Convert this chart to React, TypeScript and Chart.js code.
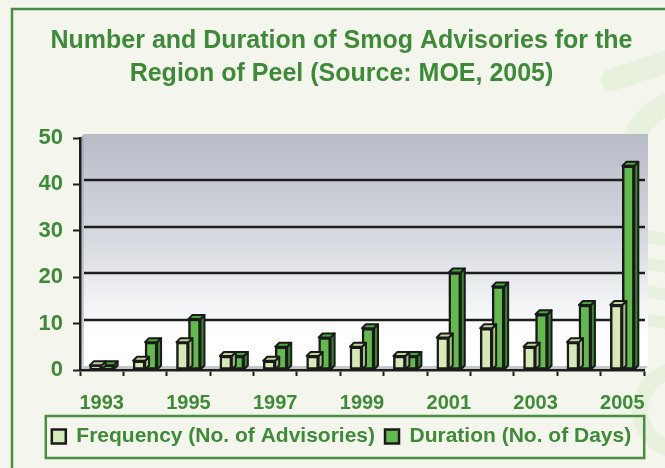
import React, { useEffect, useRef } from "react";
import { Chart, registerables } from "chart.js";

Chart.register(...registerables);

const years = ["1993", "1994", "1995", "1996", "1997", "1998", "1999", "2000", "2001", "2002", "2003", "2004", "2005"];
const shownYearLabels = ["1993", "1995", "1997", "1999", "2001", "2003", "2005"];
const frequency = [1, 2, 6, 3, 2, 3, 5, 3, 7, 9, 5, 6, 14];
const duration = [1, 6, 11, 3, 5, 7, 9, 3, 21, 18, 12, 14, 44];
const seriesNames = ["Frequency (No. of Advisories)", "Duration (No. of Days)"];
const yTickValues = [0, 10, 20, 30, 40, 50];

const FONT = "'Liberation Sans', Arial, Helvetica, sans-serif";
const GREEN_TEXT = "#3f8a39";
const FRAME = "#4a8f41";
const BG = "#f4f6ed";
const DEPTH = 4;
const FRONT = ["#d6e9b6", "#63b950"];
const TOP = ["#bcd79b", "#4ba541"];
const SIDE = ["#a3c182", "#37852f"];
const EDGE = "#1a1a1a";

const chartPlugin = {
  id: "look3d",
  beforeDraw(chart: any) {
    const { ctx, chartArea } = chart;
    const { left, top, right, bottom } = chartArea;
    const d = DEPTH;
    ctx.save();
    ctx.fillStyle = BG;
    ctx.fillRect(0, 0, chart.width, chart.height);

    // faint watermark on right
    ctx.strokeStyle = "rgba(195, 222, 180, 0.25)";
    ctx.lineCap = "round";
    ctx.lineWidth = 22;
    ctx.beginPath();
    ctx.moveTo(612, 80);
    ctx.lineTo(672, 60);
    ctx.stroke();
    ctx.beginPath();
    ctx.arc(690, 160, 60, Math.PI * 0.95, Math.PI * 1.45);
    ctx.stroke();
    ctx.lineWidth = 12;
    for (const yy of [235, 262, 290, 318]) {
      ctx.beginPath();
      ctx.moveTo(640, yy);
      ctx.lineTo(672, yy + 6);
      ctx.stroke();
    }
    ctx.lineWidth = 16;
    ctx.beginPath();
    ctx.arc(680, 410, 40, Math.PI * 0.6, Math.PI * 1.5);
    ctx.stroke();

    // frame
    ctx.strokeStyle = FRAME;
    ctx.lineWidth = 2.5;
    ctx.lineCap = "butt";
    ctx.beginPath();
    ctx.moveTo(12, chart.height);
    ctx.lineTo(12, 9);
    ctx.lineTo(chart.width, 9);
    ctx.stroke();

    // back wall
    const g = ctx.createLinearGradient(0, top - d, 0, bottom - d);
    g.addColorStop(0, "#b8bcc7");
    g.addColorStop(0.45, "#d6d9df");
    g.addColorStop(0.86, "#ffffff");
    g.addColorStop(1, "#ffffff");
    ctx.fillStyle = g;
    ctx.fillRect(left + d, top - d, right - left, bottom - top);

    // left wall
    const gl = ctx.createLinearGradient(0, top, 0, bottom);
    gl.addColorStop(0, "#a9adb8");
    gl.addColorStop(1, "#d3d6dc");
    ctx.fillStyle = gl;
    ctx.beginPath();
    ctx.moveTo(left, top);
    ctx.lineTo(left + d, top - d);
    ctx.lineTo(left + d, bottom - d);
    ctx.lineTo(left, bottom);
    ctx.closePath();
    ctx.fill();

    // floor
    ctx.fillStyle = "#c3c6cd";
    ctx.beginPath();
    ctx.moveTo(left, bottom);
    ctx.lineTo(left + d, bottom - d);
    ctx.lineTo(right + d, bottom - d);
    ctx.lineTo(right, bottom);
    ctx.closePath();
    ctx.fill();

    // gridlines on back wall
    const ys = chart.scales.y;
    ctx.strokeStyle = "#1e1e1e";
    ctx.lineWidth = 2.5;
    ys.ticks.forEach((t: any) => {
      if (t.value > ys.min && t.value < ys.max) {
        const py = Math.round(ys.getPixelForValue(t.value)) - d;
        ctx.beginPath();
        ctx.moveTo(left + d, py);
        ctx.lineTo(right + 1, py);
        ctx.stroke();
      }
    });
    ctx.restore();
  },
  afterDatasetDraw(chart: any, args: any) {
    const i = args.index;
    const meta = chart.getDatasetMeta(i);
    const { ctx } = chart;
    const d = DEPTH;
    ctx.save();
    ctx.strokeStyle = EDGE;
    ctx.lineWidth = 2;
    ctx.lineJoin = "round";
    meta.data.forEach((bar: any) => {
      const p = bar.getProps(["x", "y", "base", "width"], true);
      const l = p.x - p.width / 2;
      const r = p.x + p.width / 2;
      const t = p.y;
      const b = p.base;
      // side
      ctx.fillStyle = SIDE[i];
      ctx.beginPath();
      ctx.moveTo(r, t);
      ctx.lineTo(r + d, t - d);
      ctx.lineTo(r + d, b - d);
      ctx.lineTo(r, b);
      ctx.closePath();
      ctx.fill();
      ctx.stroke();
      // top
      ctx.fillStyle = TOP[i];
      ctx.beginPath();
      ctx.moveTo(l, t);
      ctx.lineTo(l + d, t - d);
      ctx.lineTo(r + d, t - d);
      ctx.lineTo(r, t);
      ctx.closePath();
      ctx.fill();
      ctx.stroke();
    });
    ctx.restore();
  },
  afterDraw(chart: any) {
    const hb = chart.legend && chart.legend.legendHitBoxes;
    if (!hb || !hb.length) return;
    const { ctx } = chart;
    const first = hb[0];
    const last = hb[hb.length - 1];
    const x0 = first.left - 6;
    const y0 = first.top - 10;
    const x1 = last.left + last.width + 13;
    const y1 = first.top + first.height + 11;
    ctx.save();
    ctx.strokeStyle = FRAME;
    ctx.lineWidth = 2.5;
    ctx.strokeRect(x0, y0, x1 - x0, y1 - y0);
    ctx.restore();
  },
};

export default function App() {
  const ref = useRef<HTMLCanvasElement | null>(null);
  useEffect(() => {
    if (!ref.current) return;
    const chart = new Chart(ref.current, {
      type: "bar",
      data: {
        labels: years,
        datasets: [
          {
            label: seriesNames[0],
            data: frequency,
            backgroundColor: FRONT[0],
            borderColor: EDGE,
            borderWidth: 2.5,
            borderSkipped: false,
            barThickness: 12,
          },
          {
            label: seriesNames[1],
            data: duration,
            backgroundColor: FRONT[1],
            borderColor: EDGE,
            borderWidth: 2.5,
            borderSkipped: false,
            barThickness: 12,
          },
        ],
      },
      options: {
        responsive: false,
        animation: false,
        layout: { padding: { left: 39, right: 21, top: 0, bottom: 11 } },
        plugins: {
          title: {
            display: true,
            text: ["Number and Duration of Smog Advisories for the", "Region of Peel (Source: MOE, 2005)"],
            color: GREEN_TEXT,
            font: { family: FONT, size: 25, weight: "bold", lineHeight: 1.32 },
            padding: { top: 25, bottom: 47 },
          },
          legend: {
            display: true,
            position: "bottom",
            labels: {
              color: GREEN_TEXT,
              font: { family: FONT, size: 21, weight: "bold" },
              boxWidth: 14,
              boxHeight: 14,
              padding: 10,
            },
          },
          tooltip: { enabled: false },
        },
        scales: {
          x: {
            afterFit: (scale: any) => {
              scale.height = scale.height - 14;
            },
            grid: {
              display: true,
              drawOnChartArea: false,
              drawTicks: true,
              tickLength: 6,
              tickColor: "#1e1e1e",
              tickWidth: 2,
              offset: true,
            },
            border: { display: true, color: "#1e1e1e", width: 2.5 },
            ticks: {
              autoSkip: false,
              maxRotation: 0,
              color: GREEN_TEXT,
              font: { family: FONT, size: 20, weight: "bold" },
              padding: 15,
              callback: (_v: any, idx: number) => (shownYearLabels.includes(years[idx]) ? years[idx] : ""),
            },
          },
          y: {
            min: yTickValues[0],
            max: yTickValues[yTickValues.length - 1],
            afterFit: (scale: any) => {
              scale.width = 41;
            },
            grid: {
              display: true,
              drawOnChartArea: false,
              drawTicks: true,
              tickLength: 7,
              tickColor: "#1e1e1e",
              tickWidth: 2,
            },
            border: { display: true, color: "#1e1e1e", width: 2.5 },
            ticks: {
              stepSize: 10,
              color: GREEN_TEXT,
              font: { family: FONT, size: 22, weight: "bold" },
              padding: 10,
            },
            afterBuildTicks: (scale: any) => {
              scale.ticks = yTickValues.map((v) => ({ value: v }));
            },
          },
        },
      },
      plugins: [chartPlugin],
    });
    return () => chart.destroy();
  }, []);
  return (
    <div style={{ position: "absolute", left: 0, top: 0, width: 665, height: 468 }}>
      <canvas ref={ref} width={665} height={468} style={{ display: "block", width: 665, height: 468 }} />
    </div>
  );
}
